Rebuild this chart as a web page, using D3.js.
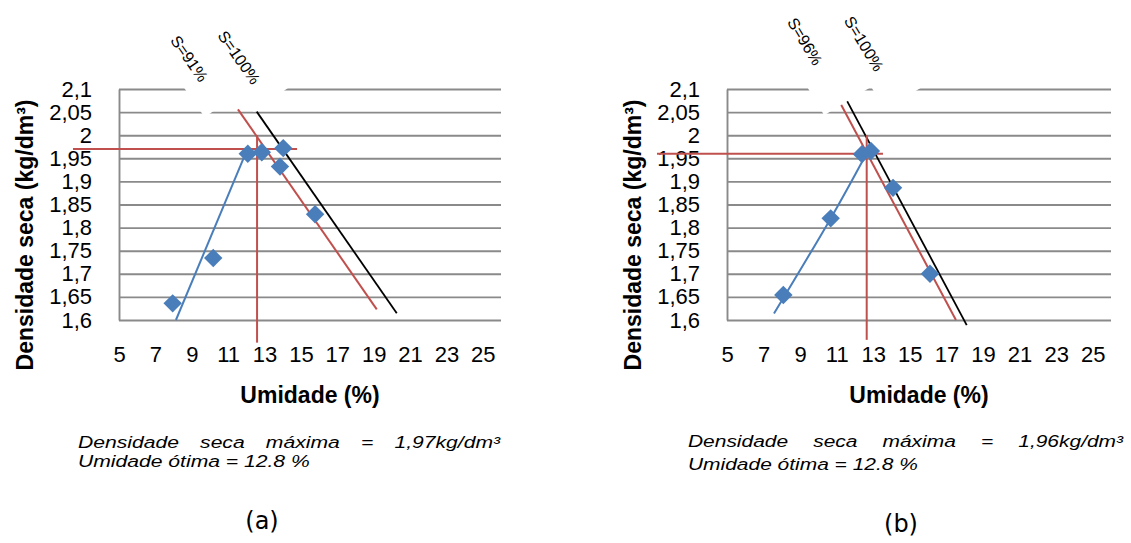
<!DOCTYPE html>
<html><head><meta charset="utf-8">
<script src="https://cdn.jsdelivr.net/npm/d3@7"></script>
<style>body{margin:0;background:#fff} svg{display:block}</style>
</head><body>
<svg id="c" width="1131" height="543"></svg>
<script>
// ---------------- data ----------------
const yTicks = [1.6, 1.65, 1.7, 1.75, 1.8, 1.85, 1.9, 1.95, 2, 2.05, 2.1];
const yTickLabels = ["1,6", "1,65", "1,7", "1,75", "1,8", "1,85", "1,9", "1,95", "2", "2,05", "2,1"];
const xTicks = [5, 7, 9, 11, 13, 15, 17, 19, 21, 23, 25];
const xTitle = "Umidade (%)";
const yTitle = "Densidade seca (kg/dm³)";

// panel (a)
const aPointsX = [7.95, 10.18, 12.08, 12.85, 14.03, 13.85, 15.78];
const aPointsY = [1.636, 1.734, 1.960, 1.963, 1.972, 1.932, 1.829];
const aFitX = [8.13, 12.04];
const aFitY = [1.6, 1.968];
const aSatPartialX = [11.54, 19.17];
const aSatPartialY = [2.056, 1.623];
const aSatFullX = [12.57, 20.27];
const aSatFullY = [2.051, 1.6145];
const aMaxDensity = 1.97;
const aOptMoisture = 12.59;
const aGuideHX = [2.47, 14.79];
const aGuideVY = [2.0, 1.551];
const aLabels = ["S=91%", "S=100%"];
const aLabelX = [8.86, 11.6];
const aLabelY = [2.166, 2.168];
const aNote1 = "Densidade seca máxima = 1,97kg/dm³";
const aNote2 = "Umidade ótima = 12.8 %";
const aCaption = "(a)";

// panel (b)
const bPointsX = [8.08, 10.67, 12.38, 12.87, 14.08, 16.1];
const bPointsY = [1.654, 1.82, 1.959, 1.966, 1.886, 1.70];
const bFitX = [7.57, 10.6, 12.64];
const bFitY = [1.614, 1.815, 1.961];
const bSatPartialX = [11.22, 17.52];
const bSatPartialY = [2.0675, 1.6];
const bSatFullX = [11.54, 18.11];
const bSatFullY = [2.076, 1.589];
const bMaxDensity = 1.96;
const bOptMoisture = 12.64;
const bGuideHX = [1.17, 13.53];
const bGuideVY = [2.0, 1.557];
const bLabels = ["S=96%", "S=100%"];
const bLabelX = [9.265, 12.49];
const bLabelY = [2.2028, 2.198];
const bNote1 = "Densidade seca máxima = 1,96kg/dm³";
const bNote2 = "Umidade ótima = 12.8 %";
const bCaption = "(b)";

// ---------------- layout ----------------
const SANS = "'Liberation Sans', Arial, sans-serif";
const COL = { grid: "#8a8a8a", blue: "#4a7ebb", red: "#c0504d", black: "#000" };
const NOTE_FS = 16.5;

const panels = [
  {
    d: { px: aPointsX, py: aPointsY, fx: aFitX, fy: aFitY, spx: aSatPartialX, spy: aSatPartialY,
         sfx: aSatFullX, sfy: aSatFullY, maxD: aMaxDensity, opt: aOptMoisture, ghx: aGuideHX, gvy: aGuideVY,
         labels: aLabels, lx: aLabelX, ly: aLabelY, note1: aNote1, note2: aNote2, caption: aCaption },
    L: { x0: 119, x1: 501, yTitleX: 33, angle: 55,
         boxes: [{ u0: -45, u1: 57, w0: -21, w1: 30 }, { u0: -45, u1: 53, w0: -19, w1: 30 }],
         noteX: 78, note1W: 422, note2W: 232, note1Y: 448, note2Y: 467, capX: 262, capY: 529 }
  },
  {
    d: { px: bPointsX, py: bPointsY, fx: bFitX, fy: bFitY, spx: bSatPartialX, spy: bSatPartialY,
         sfx: bSatFullX, sfy: bSatFullY, maxD: bMaxDensity, opt: bOptMoisture, ghx: bGuideHX, gvy: bGuideVY,
         labels: bLabels, lx: bLabelX, ly: bLabelY, note1: bNote1, note2: bNote2, caption: bCaption },
    L: { x0: 727, x1: 1111, yTitleX: 641, angle: 59,
         boxes: [{ u0: -45, u1: 73, w0: -21.5, w1: 35 }, { u0: -45, u1: 67, w0: -16, w1: 35 }],
         noteX: 688, note1W: 435, note2W: 230, note1Y: 447, note2Y: 470, capX: 901, capY: 532 }
  }
];

const svg = d3.select("#c");

function drawPanel(P) {
  const D = P.d, L = P.L;
  const x = d3.scaleLinear().domain([5, 26]).range([L.x0, L.x1]);
  const y = d3.scaleLinear().domain([1.6, 2.1]).range([320, 89]);
  const g = svg.append("g");

  // y axis with gridlines
  const ya = g.append("g").attr("transform", `translate(${L.x0},0)`)
    .call(d3.axisLeft(y).tickValues(yTicks).tickFormat((d, i) => yTickLabels[i])
      .tickSize(-(L.x1 - L.x0)).tickSizeOuter(0).tickPadding(27));
  ya.select(".domain").attr("stroke", COL.grid).attr("stroke-width", 1.9);
  ya.selectAll(".tick line").attr("stroke", COL.grid).attr("stroke-width", 1.9);
  ya.selectAll(".tick text").attr("font-family", SANS).attr("font-size", 22).attr("fill", "#000");

  // x axis labels
  const xa = g.append("g").attr("transform", `translate(0,${y(1.6)})`)
    .call(d3.axisBottom(x).tickValues(xTicks).tickFormat(d3.format("d")).tickSize(0).tickPadding(26));
  xa.select(".domain").remove();
  xa.selectAll(".tick text").attr("font-family", SANS).attr("font-size", 22).attr("fill", "#000");

  const line = d3.line().x(d => x(d[0])).y(d => y(d[1]));
  const zip = (a, b) => a.map((v, i) => [v, b[i]]);

  // compaction fit curve
  g.append("path").datum(zip(D.fx, D.fy))
    .attr("d", line.curve(d3.curveNatural))
    .attr("fill", "none").attr("stroke", COL.blue).attr("stroke-width", 2);
  line.curve(d3.curveLinear);

  // saturation lines
  g.append("path").datum(zip(D.spx, D.spy)).attr("d", line)
    .attr("fill", "none").attr("stroke", COL.red).attr("stroke-width", 2);
  g.append("path").datum(zip(D.sfx, D.sfy)).attr("d", line)
    .attr("fill", "none").attr("stroke", COL.black).attr("stroke-width", 1.8);

  // guide lines: max density & optimum moisture
  g.append("path").datum(zip(D.ghx, [D.maxD, D.maxD])).attr("d", line)
    .attr("fill", "none").attr("stroke", COL.red).attr("stroke-width", 2);
  g.append("path").datum(zip([D.opt, D.opt], D.gvy)).attr("d", line)
    .attr("fill", "none").attr("stroke", COL.red).attr("stroke-width", 2);

  // markers
  const sym = d3.symbol().type(d3.symbolSquare).size(170);
  g.selectAll("path.pt").data(zip(D.px, D.py)).join("path").attr("class", "pt")
    .attr("d", sym)
    .attr("transform", d => `translate(${x(d[0])},${y(d[1])}) rotate(45)`)
    .attr("fill", COL.blue);

  // saturation labels: white text boxes, then the text
  D.labels.forEach((t, i) => {
    const b = L.boxes[i];
    g.append("rect")
      .attr("transform", `translate(${x(D.lx[i])},${y(D.ly[i])}) rotate(${L.angle})`)
      .attr("x", b.u0).attr("width", b.u1 - b.u0)
      .attr("y", -b.w1).attr("height", b.w1 - b.w0)
      .attr("fill", "#fff");
  });
  D.labels.forEach((t, i) => {
    g.append("text")
      .attr("transform", `translate(${x(D.lx[i])},${y(D.ly[i])}) rotate(${L.angle})`)
      .attr("text-anchor", "middle").attr("dy", "0.35em")
      .attr("font-family", SANS).attr("font-size", 16).attr("fill", "#000")
      .text(t);
  });

  // axis titles
  g.append("text").attr("x", (L.x0 + L.x1) / 2).attr("y", 403)
    .attr("text-anchor", "middle").attr("font-family", SANS).attr("font-weight", "bold")
    .attr("font-size", 23).attr("fill", "#000").text(xTitle);
  g.append("text").attr("transform", `translate(${L.yTitleX},235) rotate(-90)`)
    .attr("text-anchor", "middle").attr("font-family", SANS).attr("font-weight", "bold")
    .attr("font-size", 23).attr("fill", "#000").text(yTitle);

  // notes (italic, justified first line)
  const probe = g.append("text").attr("font-family", SANS).attr("font-style", "italic")
    .attr("font-size", NOTE_FS).text(D.note2);
  const nat2 = probe.node().getComputedTextLength();
  probe.remove();
  const sx = L.note2W / nat2;

  const n2 = g.append("g").attr("transform", `translate(${L.noteX},${L.note2Y}) scale(${sx},1)`);
  n2.append("text").attr("font-family", SANS).attr("font-style", "italic").attr("font-size", NOTE_FS)
    .attr("fill", "#000").text(D.note2);

  const n1 = g.append("g").attr("transform", `translate(${L.noteX},${L.note1Y}) scale(${sx},1)`);
  const words = D.note1.split(" ");
  const wt = words.map(w => n1.append("text").attr("font-family", SANS).attr("font-style", "italic")
    .attr("font-size", NOTE_FS).attr("fill", "#000").text(w));
  const widths = wt.map(t => t.node().getComputedTextLength());
  const target = L.note1W / sx;
  const gap = (target - d3.sum(widths)) / (words.length - 1);
  let cx = 0;
  wt.forEach((t, i) => { t.attr("x", cx); cx += widths[i] + gap; });

  // caption
  g.append("text").attr("x", L.capX).attr("y", L.capY).attr("text-anchor", "middle")
    .attr("font-family", "'DejaVu Sans', sans-serif").attr("font-size", 24).attr("fill", "#000")
    .text(D.caption);
}

panels.forEach(drawPanel);
</script>
</body></html>
